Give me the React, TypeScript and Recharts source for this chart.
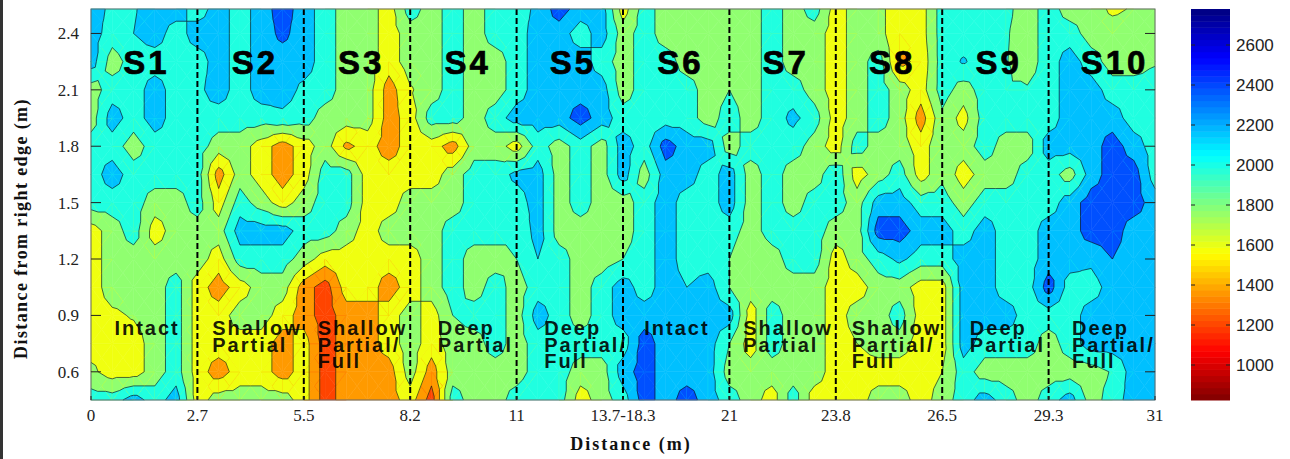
import React from 'react';
import { ScatterChart, Scatter, XAxis, YAxis } from 'recharts';

const xTickLabels = ['0', '2.7', '5.5', '8.2', '11', '13.7-18.3', '21', '23.8', '26.5', '29.3', '31'];
const yTicks = [0.6, 0.9, 1.2, 1.5, 1.8, 2.1, 2.4];
const barTicks = [1000, 1200, 1400, 1600, 1800, 2000, 2200, 2400, 2600];
const rowY = [0.45, 0.6, 0.75, 0.9, 1.05, 1.2, 1.35, 1.5, 1.65, 1.8, 1.95, 2.1, 2.25, 2.4, 2.53];
const samplesPerSection = 5;

const r045 = [1900,1900,2100,1900,2100,1500,1700,1700,1700,1700,1500, 1100,1300,1300,1300,1500,1100,1900,1700,1700,1900, 2000,1900,1500,1700,1900,2300,2100,2300,2100,1900, 1700,1500,1900,1500,1500,1500,1700,1700,1500,1700, 1900,2100,1900,1700,1900,2100,1700,1900,2100,2100];
const r060 = [1650,1500,1500,1700,1900,1500,1300,1500,1500,1300,1500, 1100,1300,1300,1300,1700,1300,1700,1700,1700,1700, 1900,1900,1700,1700,2100,2300,2100,2100,2100,1700, 1700,1700,1700,1700,1500,1500,1500,1500,1500,1600, 1900,1700,1700,1700,1700,1700,1700,1820,2100,2100];
const r075 = [1500,1500,1500,1700,1900,1500,1500,1500,1500,1300,1500, 1100,1300,1300,1500,1700,1500,1700,1700,1900,1700, 1900,1900,1900,1900,1900,2300,2100,2100,2100,1800, 1500,1900,1700,1700,1500,1600,1700,1700,1500,1500, 2100,1900,1900,1900,1700,1900,2100,2100,2100,2100];
const r090 = [1500,1560,1620,1700,1900,1500,1500,1700,1700,1500,1300, 1100,1300,1300,1500,1700,1500,1800,1900,1900,1700, 2100,1900,1700,1900,2100,2100,2100,2100,2100,2100, 1500,1900,1700,1700,1500,1700,1700,1900,1500,1500, 2100,2100,2100,1900,1900,1900,2100,2100,2100,2100];
const r105 = [1500,1700,1700,1700,1900,1500,1300,1500,1700,1700,1300, 1100,1500,1500,1300,1500,1700,1900,1700,1900,1700, 1900,1900,1700,1900,2100,1900,2100,2000,2100,1800, 1700,1700,1700,1700,1500,1500,1700,1700,1500,1500, 2100,2100,1900,1900,2300,1900,1900,2100,2100,2100];
const r120 = [1500,1700,1700,1700,1700,1700,1500,1900,1900,1900,1700, 1500,1500,1500,1500,1500,1700,1900,1700,1700,1800, 2000,1900,1700,1700,1800,1900,2100,1900,1900,1800, 1600,1700,1900,1900,1500,1700,1900,2050,1900,1900, 2100,2100,1900,1900,2100,2100,2050,2200,2100,2100];
const r135 = [1500,1700,1900,1500,1700,1700,1700,2100,2100,2100,1900, 1900,1700,1500,1700,1700,1700,1900,1900,1900,1800, 2100,1700,1700,1700,1700,1900,2100,1900,1900,1900, 1700,1900,1900,1900,1700,1700,2300,2300,2100,2100, 1900,2100,1900,1900,2100,2100,2300,2300,2100,2100];
const r150 = [1900,1900,1900,1700,1700,1900,1500,1900,1700,1500,1700, 1900,1900,1500,1500,1700,1700,1700,1900,1900,1900, 2100,1700,1900,1700,1700,1900,2100,1900,1900,2100, 1700,1900,1700,1900,1900,1700,2100,2100,1900,1900, 1700,1900,1900,1900,1900,2100,2300,2300,2300,2100];
const r165 = [1900,2100,1900,1900,1900,1900,1300,1700,1500,1300,1500, 1900,1900,1500,1500,1500,1500,1700,1900,1900,2050, 2100,1700,1900,1700,2100,1700,2100,2100,1900,2100, 1700,1900,1700,1700,1950,1500,1700,1900,1500,1750, 1500,1700,1700,1900,1900,1700,2100,2300,2300,1900];
const r180 = [1900,1900,1700,1900,1900,1900,1700,1700,1500,1300,1500, 1700,1350,1480,1300,1500,1500,1300,1700,1700,1500, 1900,1700,1900,1700,2100,1900,2300,2100,2100,1700, 1900,1900,1900,1700,1500,1900,1700,1700,1500,1750, 1700,1900,1700,1700,2100,2100,2100,2300,2100,1900];
const r195 = [1700,2100,1900,2100,1900,1950,1900,1900,1900,1950,1900, 1700,1700,1700,1300,1500,1900,1900,1700,1900,2100, 2100,2100,2300,2100,1900,1900,1900,1900,1700,1900, 1700,1900,2050,1900,1500,1700,1900,1700,1300,1750, 1520,1900,1900,1900,1900,2100,2100,2100,1900,1900];
const r210 = [1700,1900,1900,2100,1900,1950,2100,1900,2100,2100,1950, 1900,1700,1700,1300,1580,1700,1900,1700,1700,1900, 2100,2100,2100,2100,1700,1900,1900,1900,1700,1800, 1700,1900,1900,1700,1500,1700,1900,1700,1500,1900, 1700,1900,1820,1820,1900,2100,2100,1900,1900,1900];
const r225 = [2100,1700,1900,1900,1900,1900,2100,1900,2100,2100,2100, 1900,1700,1700,1500,1700,1700,1900,1700,1700,1900, 2100,2100,2100,1900,1700,1900,1900,1700,1700,1700, 1700,1900,1700,1700,1500,1700,1900,1350,1450,1900, 2020,1900,1810,1700,1900,2100,1900,1700,1700,1780];
const r240 = [2100,1900,2000,2100,1900,2100,2100,1900,2100,2250,2100, 1900,1700,1700,1500,1700,1700,1900,1700,1900,1900, 2100,2100,1900,2100,1700,1900,1700,1700,1700,1700, 1700,1900,1700,1700,1500,1700,1650,1500,1500,1900, 1900,1900,1820,1700,1900,1900,1700,1700,1700,1700];
const r253 = [2100,1950,1980,2100,2100,1900,2100,1900,2100,2300,2100, 1900,1700,1700,1500,1900,1700,1900,1700,1900,1900, 2050,2300,2100,2100,1500,1900,1700,1700,1700,1700, 1700,1900,1700,1900,1500,1700,1650,1500,1500,1900, 1900,1900,1850,1700,1900,1700,1700,1560,1620,1700];
const grid = [r045, r060, r075, r090, r105, r120, r135, r150, r165, r180, r195, r210, r225, r240, r253];

const bandLevels = [1200, 1400, 1600, 1800, 2000, 2200, 2400];
const bandColors = ['#ff4400', '#ff9a00', '#f0ff10', '#90ff70', '#20ffe0', '#00c0ff', '#0050ff', '#0000e0'];

const sectionEdges = [1, 2, 3, 4, 5, 6, 7, 8, 9];
const sectionNames = ['S1', 'S2', 'S3', 'S4', 'S5', 'S6', 'S7', 'S8', 'S9', 'S10'];
const sectionX = [0.52, 1.54, 2.54, 3.54, 4.53, 5.54, 6.53, 7.53, 8.53, 9.62];
const damageLines = [['Intact'], ['Shallow', 'Partial'], ['Shallow', 'Partial/', 'Full'], ['Deep', 'Partial'], ['Deep', 'Partial/', 'Full'], ['Intact'], ['Shallow', 'Partial'], ['Shallow', 'Partial/', 'Full'], ['Deep', 'Partial'], ['Deep', 'Partial/', 'Full']];
const damageX = [0.22, 1.14, 2.13, 3.26, 4.26, 5.2, 6.13, 7.15, 8.26, 9.22];

const W = 1290, H = 459, L = 91, R = 1155, T = 9, B = 400;
const Y_MIN = 0.45, Y_MAX = 2.53;
const pxX = (R - L) / 10;
const pxY = (B - T) / (Y_MAX - Y_MIN);

type V = { x: number; y: number; v: number };

const cells: any[] = [];
for (let r = 0; r < rowY.length - 1; r++) {
  for (let c = 0; c < grid[0].length - 1; c++) {
    cells.push({ x: c / samplesPerSection, y: rowY[r], r, c });
  }
}
const edgePoints = sectionEdges.map((x) => ({ x, y: Y_MAX }));
const framePoints = [{ x: 0, y: Y_MAX }];
const sectionPoints = sectionNames.map((t, i) => ({ x: sectionX[i], y: 2.186, t }));
const damagePoints = damageLines.map((lines, i) => ({ x: damageX[i], y: 0.795, lines }));

function triangles(props: any): V[][] {
  const { cx, cy, payload } = props;
  const { r, c } = payload;
  const w = pxX / samplesPerSection;
  const h = (rowY[r + 1] - rowY[r]) * pxY;
  const a = { x: cx, y: cy, v: grid[r][c] };
  const b = { x: cx + w, y: cy, v: grid[r][c + 1] };
  const d = { x: cx + w, y: cy - h, v: grid[r + 1][c + 1] };
  const e = { x: cx, y: cy - h, v: grid[r + 1][c] };
  const m = { x: cx + w / 2, y: cy - h / 2, v: (a.v + b.v + d.v + e.v) / 4 };
  return [[a, b, m], [b, d, m], [d, e, m], [e, a, m]];
}

function cross(p: V, q: V, l: number): V {
  const t = (l - p.v) / (q.v - p.v);
  return { x: p.x + (q.x - p.x) * t, y: p.y + (q.y - p.y) * t, v: l };
}

function clip(tri: V[], l: number): V[] {
  const out: V[] = [];
  for (let i = 0; i < tri.length; i++) {
    const p = tri[i], q = tri[(i + 1) % tri.length];
    if (p.v >= l) out.push(p);
    if ((p.v >= l) !== (q.v >= l)) out.push(cross(p, q, l));
  }
  return out;
}

const toPts = (poly: V[]) => poly.map((p) => `${p.x.toFixed(2)},${p.y.toFixed(2)}`).join(' ');
const bandOf = (v: number) => bandLevels.filter((l) => v >= l).length;

function FillCell(props: any) {
  const polys: React.ReactNode[] = [];
  triangles(props).forEach((tri, ti) => {
    const lo = bandOf(Math.min(...tri.map((p) => p.v)));
    const hi = bandOf(Math.max(...tri.map((p) => p.v)));
    for (let k = lo; k <= hi; k++) {
      const col = bandColors[k];
      const poly = k === lo ? tri : clip(tri, bandLevels[k - 1]);
      if (poly.length >= 3) {
        polys.push(<polygon key={`${ti}-${k}`} points={toPts(poly)} fill={col} stroke={col} strokeWidth={0.5} />);
      }
    }
  });
  return <g>{polys}</g>;
}

function LineCell(props: any) {
  const segs: React.ReactNode[] = [];
  triangles(props).forEach((tri, ti) => {
    bandLevels.forEach((l, k) => {
      const pts: V[] = [];
      for (let i = 0; i < 3; i++) {
        const p = tri[i], q = tri[(i + 1) % 3];
        if ((p.v >= l) !== (q.v >= l)) pts.push(cross(p, q, l));
      }
      if (pts.length === 2) {
        segs.push(<line key={`${ti}-${k}`} x1={pts[0].x} y1={pts[0].y} x2={pts[1].x} y2={pts[1].y} stroke="#111" strokeOpacity={0.8} strokeWidth={0.8} />);
      }
    });
  });
  return <g>{segs}</g>;
}

function EdgeLine(props: any) {
  return <line x1={props.cx} x2={props.cx} y1={props.cy} y2={props.cy + (B - T)} stroke="#000" strokeWidth={2} strokeDasharray="6 3" />;
}

function Frame(props: any) {
  return <rect x={props.cx} y={props.cy} width={R - L} height={B - T} fill="none" stroke="#666" strokeWidth={1} />;
}

function SectionText(props: any) {
  return (
    <text x={props.cx} y={props.cy} textAnchor="middle" fontFamily="Liberation Sans" fontWeight="bold" fontSize={33} letterSpacing={3} fill="#000" stroke="#000" strokeWidth={0.7}>
      {props.payload.t}
    </text>
  );
}

function DamageText(props: any) {
  return (
    <g>
      {props.payload.lines.map((t: string, i: number) => (
        <text key={t} x={props.cx} y={props.cy + i * 16.5} fontFamily="Liberation Sans" fontWeight="bold" fontSize={20} letterSpacing={2} fill="#000" fillOpacity={0.9}>
          {t}
        </text>
      ))}
    </g>
  );
}

function XTick(props: any) {
  const { x, payload } = props;
  return (
    <g>
      <line x1={x} x2={x} y1={B} y2={B - 4} stroke="#222" />
      <text x={x} y={421} textAnchor="middle" fontFamily="Liberation Serif" fontSize={17} fill="#222">
        {xTickLabels[payload.value]}
      </text>
    </g>
  );
}

function YTick(props: any) {
  const { y, payload } = props;
  return (
    <g>
      <line x1={L} x2={L + 10} y1={y} y2={y} stroke="#222" />
      <line x1={R - 10} x2={R} y1={y} y2={y} stroke="#222" />
      <text x={79} y={y + 6} textAnchor="end" fontFamily="Liberation Serif" fontSize={17} fill="#222">
        {payload.value.toFixed(1)}
      </text>
    </g>
  );
}

const BAR_MIN = 825, BAR_MAX = 2780, BAR_STEPS = 64;
const barBands = Array.from({ length: BAR_STEPS }, (_, i) => ({ x: 0, y: BAR_MIN + ((BAR_MAX - BAR_MIN) * (i + 1)) / BAR_STEPS, i }));

function jet(t: number) {
  const f = (o: number) => Math.round(255 * Math.max(0, Math.min(1, 1.5 - Math.abs(4 * t - o))));
  return `rgb(${f(3)},${f(2)},${f(1)})`;
}

function BarBand(props: any) {
  const h = (B - T) / BAR_STEPS;
  return <rect x={props.cx} y={props.cy} width={39} height={h + 0.5} fill={jet(1 - (props.payload.i + 0.5) / BAR_STEPS)} />;
}

function BarTick(props: any) {
  const { y, payload } = props;
  return (
    <g>
      <line x1={0} x2={4} y1={y} y2={y} stroke="#222" />
      <line x1={35} x2={39} y1={y} y2={y} stroke="#222" />
      <text x={45} y={y + 6} fontFamily="Liberation Sans" fontSize={17} fill="#222">
        {payload.value}
      </text>
    </g>
  );
}

export default function App() {
  return (
    <div style={{ position: 'absolute', left: 0, top: 0, width: W, height: H, background: '#fff', overflow: 'hidden' }}>
      <div style={{ position: 'absolute', left: 0, top: 0, width: 3, height: H, background: '#333' }} />
      <div style={{ position: 'absolute', left: 0, top: 0 }}>
        <ScatterChart width={W} height={H} margin={{ top: T, right: W - R, bottom: 0, left: 0 }}>
          <Scatter data={cells} dataKey="y" shape={FillCell} isAnimationActive={false} />
          <Scatter data={cells} dataKey="y" shape={LineCell} isAnimationActive={false} />
          <Scatter data={edgePoints} dataKey="y" shape={EdgeLine} isAnimationActive={false} />
          <Scatter data={framePoints} dataKey="y" shape={Frame} isAnimationActive={false} />
          <Scatter data={sectionPoints} dataKey="y" shape={SectionText} isAnimationActive={false} />
          <Scatter data={damagePoints} dataKey="y" shape={DamageText} isAnimationActive={false} />
          <XAxis
            type="number"
            dataKey="x"
            domain={[0, 10]}
            ticks={[0, 1, 2, 3, 4, 5, 6, 7, 8, 9, 10]}
            height={H - B}
            axisLine={false}
            tickLine={false}
            tick={XTick}
            interval={0}
            label={{ value: 'Distance (m)', position: 'insideBottom', offset: 9, dx: 8, fontFamily: 'Liberation Serif', fontWeight: 'bold', fontSize: 18, letterSpacing: 2, fill: '#111' }}
          />
          <YAxis
            type="number"
            dataKey="y"
            domain={[Y_MIN, Y_MAX]}
            ticks={yTicks}
            width={L}
            axisLine={false}
            tickLine={false}
            tick={YTick}
            interval={0}
            label={{ value: 'Distance from right edge (m)', angle: -90, position: 'insideLeft', offset: 21, dy: 24, textAnchor: 'middle', fontFamily: 'Liberation Serif', fontWeight: 'bold', fontSize: 18, letterSpacing: 1.4, fill: '#111' }}
          />
        </ScatterChart>
      </div>
      <div style={{ position: 'absolute', left: 1191, top: 0 }}>
        <ScatterChart width={99} height={H} margin={{ top: T, right: 0, bottom: 0, left: 0 }}>
          <Scatter data={barBands} dataKey="y" shape={BarBand} isAnimationActive={false} />
          <XAxis type="number" dataKey="x" domain={[0, 1]} height={H - B} axisLine={false} tickLine={false} tick={false} />
          <YAxis type="number" dataKey="y" orientation="right" domain={[BAR_MIN, BAR_MAX]} ticks={barTicks} width={60} axisLine={false} tickLine={false} tick={(p: any) => <BarTick {...p} x={0} />} interval={0} />
        </ScatterChart>
      </div>
    </div>
  );
}
